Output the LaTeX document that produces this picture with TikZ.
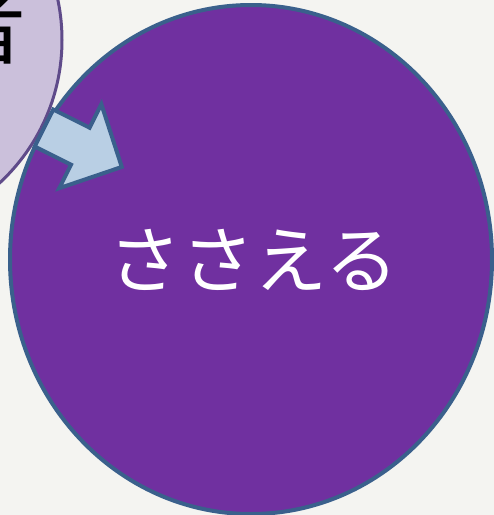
\documentclass[tikz,border=0pt]{standalone}
\usepackage{fontspec}
\newfontfamily\jpfont{Noto Sans CJK JP}
\usepackage{tikz}
\usetikzlibrary{shapes.geometric, calc}

\definecolor{paper}{RGB}{244,244,241}
\definecolor{bigfill}{RGB}{112,48,160}
\definecolor{bigline}{RGB}{58,96,140}
\definecolor{smallfill}{RGB}{203,192,219}
\definecolor{smallline}{RGB}{95,75,138}
\definecolor{arrfill}{RGB}{185,207,228}

\begin{document}
\begin{tikzpicture}[x=1pt, y=1pt,
    bigcircle/.style={ellipse, draw=bigline, line width=4pt, fill=bigfill, minimum width=482pt, minimum height=509pt, inner sep=0pt, text=white, font=\jpfont\fontsize{73}{86}\selectfont},
    smallcircle/.style={circle, draw=smallline, line width=3pt, fill=smallfill, minimum size=390pt, inner sep=0pt},
    blockarr/.style={draw=bigline, line width=4pt, fill=arrfill, line join=miter}
]
% Background
\fill[paper] (0,0) rectangle (494,-515);
\useasboundingbox (0,0) rectangle (494,-515);
\clip (0,0) rectangle (494,-515);

% Small circle (top left)
\node[smallcircle] (helper) at (-133,-40) {};
\node[font=\jpfont\fontsize{88}{100}\selectfont, inner sep=0pt, anchor=south east] (helpertxt) at (27,-65) {者};

% Big circle
\node[bigcircle] (support) at (251,-259.5) {\hspace{5pt}ささえる};

% Block arrow
\coordinate (arrtail) at (44,-128);
\begin{scope}[shift={(arrtail)}, rotate=-26.6]
\draw[blockarr] (0,20.7) -- (40.6,20.7) -- (40.6,47) -- (87,0) -- (40.6,-47) -- (40.6,-20.7) -- (0,-20.7) -- cycle;
\end{scope}
\end{tikzpicture}
\end{document}
